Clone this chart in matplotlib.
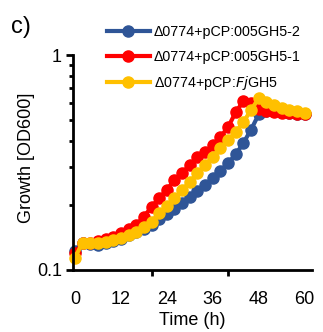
"""
Growth curves (OD600, log scale) of the three complemented strains.
Output: out.png
"""

import matplotlib
import matplotlib.pyplot as plt
from matplotlib.ticker import FixedLocator, NullFormatter

matplotlib.use("Agg")
plt.rcParams["font.family"] = ["Liberation Sans", "DejaVu Sans"]

time_h = [0, 2, 4, 6, 8, 10, 12, 14, 16, 18, 20, 22, 24, 26, 28, 30,
          32, 34, 36, 38, 40, 42, 44, 46, 48, 50, 52, 54, 56, 58, 60]

od_gh5_2 = [0.122, 0.133, 0.132, 0.131, 0.133, 0.136, 0.140, 0.145, 0.150, 0.155,
            0.162, 0.172, 0.182, 0.193, 0.205, 0.218, 0.232, 0.248, 0.268, 0.290,
            0.315, 0.345, 0.390, 0.450, 0.530, 0.550, 0.548, 0.543, 0.538, 0.534, 0.530]

od_gh5_1 = [0.120, 0.133, 0.134, 0.137, 0.139, 0.142, 0.148, 0.155, 0.162, 0.177,
            0.196, 0.216, 0.236, 0.262, 0.283, 0.308, 0.335, 0.354, 0.381, 0.416,
            0.462, 0.543, 0.610, 0.600, 0.560, 0.550, 0.545, 0.540, 0.536, 0.532, 0.530]

od_fjgh5 = [0.114, 0.134, 0.134, 0.133, 0.135, 0.138, 0.141, 0.146, 0.150, 0.158,
            0.167, 0.184, 0.198, 0.216, 0.236, 0.257, 0.283, 0.308, 0.336, 0.369,
            0.403, 0.438, 0.488, 0.555, 0.630, 0.605, 0.585, 0.570, 0.558, 0.548, 0.540]

labels = ["Δ0774+pCP:005GH5-2", "Δ0774+pCP:005GH5-1", "Δ0774+pCP:$\\it{Fj}$GH5"]
colors = ["#2F5597", "#FF0000", "#FFC000"]
x_labels = [0, 12, 24, 36, 48, 60]
x_marks = [0, 20, 40, 60]


def main():
    fig = plt.figure(figsize=(3.23, 3.32), dpi=100)
    ax = fig.add_axes([0.226, 0.187, 0.741, 0.647])

    for ys, lab, col in zip([od_gh5_2, od_gh5_1, od_fjgh5], labels, colors):
        ax.plot(time_h, ys, color=col, linewidth=3, marker="o",
                markersize=8, label=lab, clip_on=False)

    ax.set_yscale("log")
    ax.set_ylim(0.1, 1)
    ax.set_xlim(-0.5, 62)

    ax.yaxis.set_major_locator(FixedLocator([0.1, 1]))
    ax.set_yticklabels(["0.1", "1"])
    ax.yaxis.set_minor_locator(FixedLocator([0.2, 0.3, 0.4, 0.5, 0.6, 0.7, 0.8, 0.9]))
    ax.yaxis.set_minor_formatter(NullFormatter())

    ax.xaxis.set_major_locator(FixedLocator(x_labels))
    ax.set_xticklabels([str(v) for v in x_labels])
    ax.xaxis.set_minor_locator(FixedLocator(x_marks))

    ax.tick_params(axis="x", which="major", length=0, labelsize=13, pad=15)
    ax.tick_params(axis="x", which="minor", length=4, width=2, direction="out")
    ax.tick_params(axis="y", which="major", length=5, width=2, labelsize=13, pad=3)
    ax.tick_params(axis="y", which="minor", length=3, width=2, direction="out")

    for side in ["top", "right"]:
        ax.spines[side].set_visible(False)
    for side in ["left", "bottom"]:
        ax.spines[side].set_linewidth(2)

    ax.set_xlabel("Time (h)", fontsize=13, labelpad=3)
    ax.set_ylabel("Growth [OD600]", fontsize=13)
    ax.yaxis.set_label_coords(-0.16, 0.523)

    ax.legend(loc="upper left", bbox_to_anchor=(0.3, 0.955), bbox_transform=fig.transFigure,
              frameon=False, fontsize=10.3, handlelength=3.0, handletextpad=0.3,
              labelspacing=0.74, borderaxespad=0.3)

    fig.text(0.035, 0.9, "c)", fontsize=17)

    fig.savefig("out.png", dpi=100)
    plt.close(fig)


if __name__ == "__main__":
    main()
